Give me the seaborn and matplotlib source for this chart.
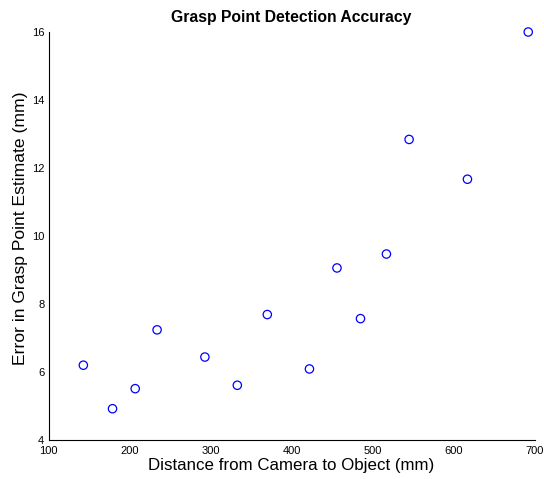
import matplotlib
matplotlib.use("Agg")
import matplotlib.pyplot as plt
import seaborn as sns
import pandas as pd

distance_mm = [143, 179, 207, 234, 293, 333, 370, 422, 456, 485, 517, 545, 617, 692]
error_mm = [6.20, 4.92, 5.51, 7.24, 6.44, 5.61, 7.69, 6.09, 9.06, 7.57, 9.47, 12.84, 11.67, 16.0]
x_ticks = [100, 200, 300, 400, 500, 600, 700]
y_ticks = [4, 6, 8, 10, 12, 14, 16]

df = pd.DataFrame({"d": distance_mm, "e": error_mm})

sns.set_style("white")
plt.rcParams['font.family'] = ['Liberation Sans', 'DejaVu Sans']
plt.rcParams['text.color'] = 'black'
plt.rcParams['axes.labelcolor'] = 'black'

fig = plt.figure(figsize=(5.44, 4.79), dpi=100)
ax = fig.add_axes([48.5/544, 1-440/479, (534.7-48.5)/544, (440-32)/479])

sns.scatterplot(data=df, x="d", y="e", ax=ax, marker="o", s=36,
                facecolors="none", edgecolor="#0000ff", linewidth=0.9, legend=False)
for coll in ax.collections:
    coll.set_clip_on(False)

ax.set_xlim(100, 700)
ax.set_ylim(4, 16)
ax.set_xticks(x_ticks)
ax.set_yticks(y_ticks)
ax.tick_params(direction="in", length=4, width=0.8, labelsize=8, colors="black", pad=3)
ax.tick_params(axis="x", pad=4)
for s in ["top", "right"]:
    ax.spines[s].set_visible(False)
for s in ["left", "bottom"]:
    ax.spines[s].set_color("black")
    ax.spines[s].set_linewidth(0.8)

ax.set_xlabel("Distance from Camera to Object (mm)", fontsize=12.2, labelpad=2, color="black")
ax.set_ylabel("Error in Grasp Point Estimate (mm)", fontsize=12.6, labelpad=3, color="black")
ax.yaxis.label.set_y(0.52)
ax.set_title("Grasp Point Detection Accuracy", fontsize=11.3, fontweight="bold", pad=7, color="black")

fig.savefig("out.png", dpi=100)
